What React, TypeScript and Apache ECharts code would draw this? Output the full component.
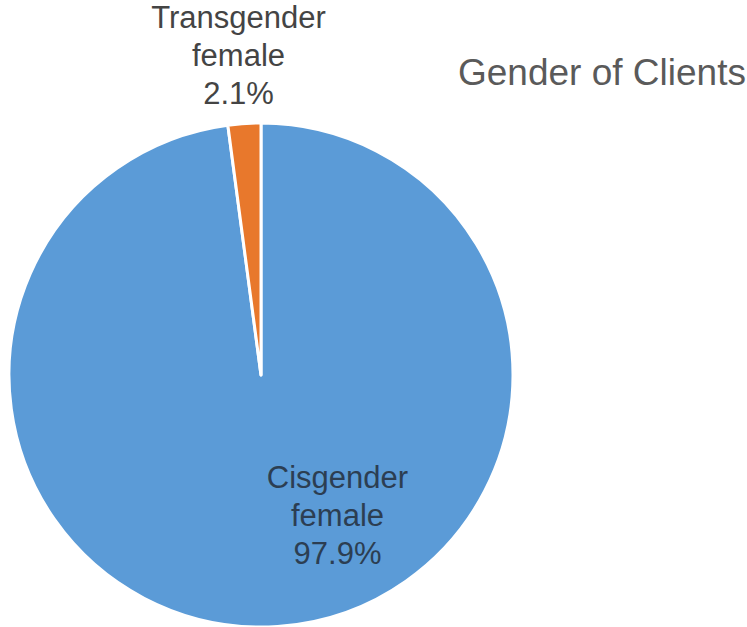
import React, { useEffect, useRef } from "react";
import * as echarts from "echarts";

const categories = ["Cisgender\nfemale", "Transgender\nfemale"];
const values = [97.9, 2.1];
const colors = ["#5B9BD7", "#E8782C"];
const titleText = "Gender of Clients";

export default function App() {
  const ref = useRef<HTMLDivElement>(null);
  useEffect(() => {
    document.body.style.margin = "0";
    const chart = echarts.init(ref.current!, null, { renderer: "svg" });
    chart.setOption({
      animation: false,
      backgroundColor: "#ffffff",
      title: {
        text: titleText,
        left: 453,
        top: 49,
        textStyle: {
          fontFamily: "Liberation Sans",
          fontSize: 37,
          fontWeight: "normal",
          color: "#5a5a5a",
        },
      },
      series: [
        {
          type: "pie",
          center: [261, 375],
          radius: 252,
          startAngle: 90,
          clockwise: true,
          itemStyle: { borderColor: "#ffffff", borderWidth: 3 },
          labelLine: { show: false },
          data: categories.map((c, i) => ({
            name: c,
            value: values[i],
            itemStyle: { color: colors[i] },
            label: {
              show: true,
              position: "inside",
              formatter: (p: any) => `${p.name}\n${p.value.toFixed(1)}%`,
              fontFamily: "Liberation Sans",
              fontSize: 31,
              lineHeight: 38,
              align: "center",
              color: i === 0 ? "#2c3e52" : "#444444",
              offset: i === 0 ? [68, 12] : [-14, -191],
            },
          })),
        },
      ],
    });
    return () => chart.dispose();
  }, []);
  return (
    <div
      ref={ref}
      style={{ position: "fixed", left: 0, top: 0, width: 747, height: 627 }}
    />
  );
}
